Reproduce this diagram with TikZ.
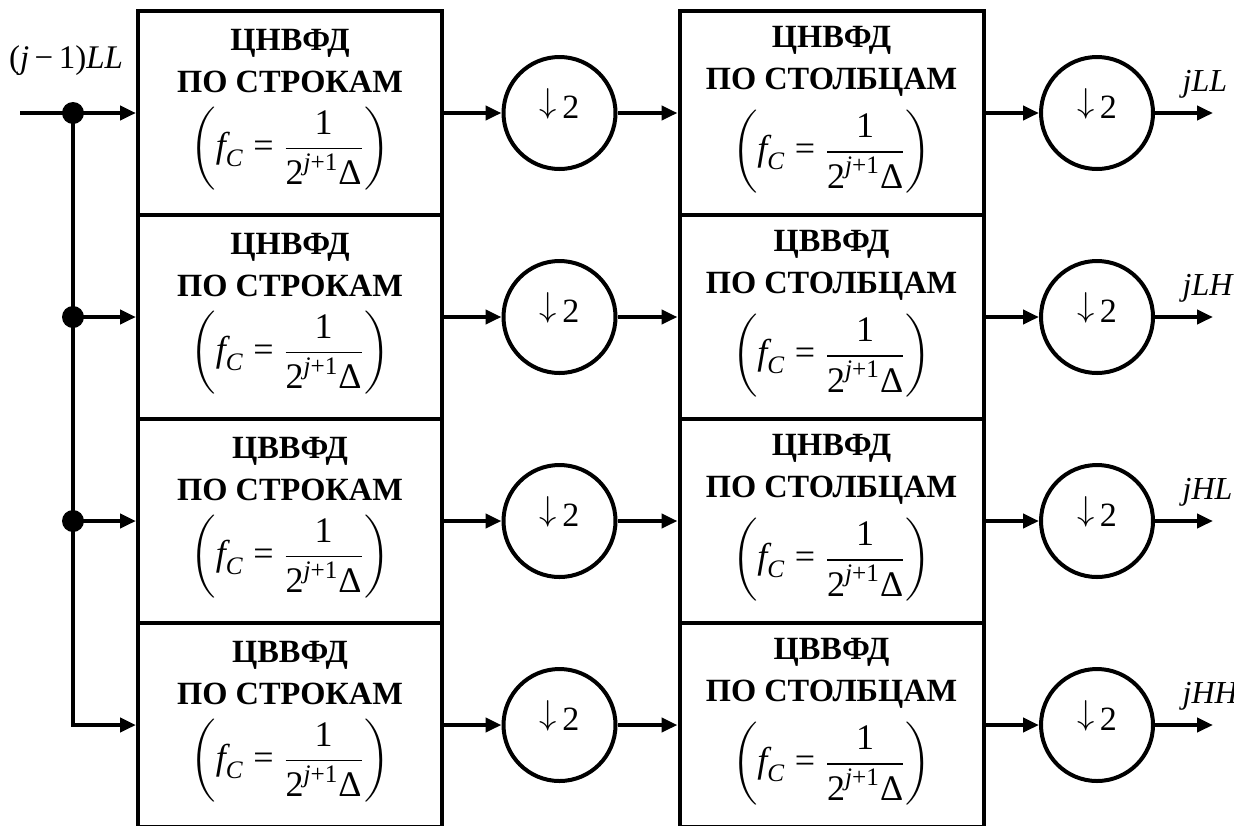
\documentclass[tikz,border=0pt]{standalone}
\usepackage{amsmath}
\usepackage{fontspec}
\setmainfont{Liberation Serif}
\usetikzlibrary{arrows.meta}
\newcommand\myrm[1]{\text{\normalfont #1}}
\newcommand\myit[1]{\text{\normalfont\itshape #1}}
\newcommand\fcf{{\fontsize{18}{20}\selectfont$\left(\myit{f}_{\myit{C}}\mathrel{\myrm{=}}\dfrac{\myrm{1}}{\myrm{2}^{\myit{j}\myrm{+1}}\myrm{Δ}}\right)$}}
\newcommand\dntwo{\raisebox{.16em}{$\downarrow$}\,2}
\begin{document}
\begin{tikzpicture}[x=0.5pt,y=-0.5pt,line width=2pt,
  box/.style={draw,minimum width=152pt,minimum height=102pt,inner sep=0pt},
  btxt/.style={align=center,inner sep=0pt,font=\fontsize{16.2}{21}\selectfont\bfseries},
  circ/.style={draw,circle,minimum size=56pt,inner sep=0pt},
  dot/.style={circle,fill,minimum size=11pt,inner sep=0pt},
  arr/.style={-{Triangle[length=8pt,width=7pt]}},
  lbl/.style={font=\fontsize{16}{19}\selectfont,anchor=base west},
  dn/.style={font=\fontsize{17}{20}\selectfont}]
\useasboundingbox (0,0) rectangle (1234,825);
\foreach \i/\y/\ln/\rn/\o in {1/113/ЦНВФД/ЦНВФД/LL,2/317/ЦНВФД/ЦВВФД/LH,3/521/ЦВВФД/ЦНВФД/HL,4/725/ЦВВФД/ЦВВФД/HH}{
  \node[box] (L\i) at (290,\y) {};
  \node[box] (R\i) at (831.5,\y) {};
  \node[btxt] (Lt\i) at (290,{\y-3}) {\ln\\ПО СТРОКАМ\\[6pt]\fcf};
  \node[btxt] (Rt\i) at (831.5,{\y-3}) {\rn\\ПО СТОЛБЦАМ\\[6pt]\fcf};
  \node[circ] (A\i) at (559.5,\y) {};
  \node[circ] (B\i) at (1097,\y) {};
  \node[dn] (a\i) at (559.5,{\y-9}) {\dntwo};
  \node[dn] (b\i) at (1097,{\y-9}) {\dntwo};
  \coordinate (o\i) at (1213,\y);
  \node[lbl] (t\i) at (1174,{\y-22}) {\itshape j\o};
  \draw[arr] (L\i.east) -- (A\i.west);
  \draw[arr] (A\i.east) -- (R\i.west);
  \draw[arr] (R\i.east) -- (B\i.west);
  \draw[arr] (B\i.east) -- (o\i);
}
\coordinate (in) at (20,113);
\node[dot] (d1) at (73,113) {};
\node[dot] (d2) at (73,317) {};
\node[dot] (d3) at (73,521) {};
\coordinate (corner) at (73,725);
\node[font=\fontsize{16.5}{19}\selectfont,anchor=base] (inl) at (66,68) {(\textit{j}\,−\,1)\textit{LL}};
\draw[arr] (in) -- (L1.west);
\draw[arr] (d1.center) -- (corner) -- (L4.west);
\draw[arr] (d2.center) -- (L2.west);
\draw[arr] (d3.center) -- (L3.west);
\end{tikzpicture}
\end{document}
